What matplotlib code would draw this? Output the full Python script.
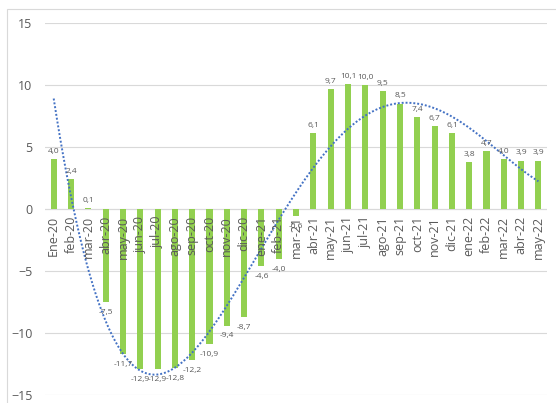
import numpy as np
import matplotlib.pyplot as plt
from matplotlib.patches import Rectangle

# monthly variation (%), Jan-2020 .. May-2022
months = ["Ene-20", "feb-20", "mar-20", "abr-20", "may-20", "jun-20", "jul-20", "ago-20",
          "sep-20", "oct-20", "nov-20", "dic-20", "ene-21", "feb-21", "mar-21", "abr-21",
          "may-21", "jun-21", "jul-21", "ago-21", "sep-21", "oct-21", "nov-21", "dic-21",
          "ene-22", "feb-22", "mar-22", "abr-22", "may-22"]
values = [4.0, 2.4, 0.1, -7.5, -11.7, -12.9, -12.9, -12.8, -12.2, -10.9, -9.4, -8.7,
          -4.6, -4.0, -0.6, 6.1, 9.7, 10.1, 10.0, 9.5, 8.5, 7.4, 6.7, 6.1,
          3.8, 4.7, 4.0, 3.9, 3.9]
yticks = [-15, -10, -5, 0, 5, 10, 15]

plt.rcParams['font.family'] = ['Open Sans', 'DejaVu Sans']
gray = '#595959'

fig = plt.figure(figsize=(5.56, 4.03), dpi=100)
ax = fig.add_axes([0.081, 0.0199, 0.903, 0.923])

x = np.arange(len(values))
ax.bar(x, values, width=0.35, color='#92D050', zorder=2)

# 4th order polynomial trend line (x = 1..n like a spreadsheet trendline)
xt = x + 1
coef = np.polyfit(xt, values, 4)
xs = np.linspace(1, len(values), 300)
ax.plot(xs - 1, np.polyval(coef, xs), linestyle=(0, (1, 1)), color='#4472C4', lw=1.4, zorder=3)

for xi, v in zip(x, values):
    txt = f"{v:.1f}".replace('.', ',')
    if v >= 0:
        ax.annotate(txt, (xi, v), xytext=(0, 3), textcoords='offset points',
                    ha='center', va='bottom', fontsize=6, color=gray, zorder=4)
    else:
        ax.annotate(txt, (xi, v), xytext=(0, -5), textcoords='offset points',
                    ha='center', va='top', fontsize=6, color=gray, zorder=4)

# category labels sit just under the zero line
for xi, m in zip(x, months):
    ax.annotate(m, (xi, 0), xytext=(0, -5), textcoords='offset points', rotation=90,
                ha='center', va='top', fontsize=9, color=gray, zorder=4)

ax.set_xlim(-0.5, len(values) - 0.5)
ax.set_ylim(-15, 15)
ax.set_yticks(yticks)
ax.set_xticks([])
ax.tick_params(axis='y', length=0, pad=9, labelsize=9, labelcolor=gray)
ax.grid(axis='y', color='#d9d9d9', lw=0.8, zorder=0)
ax.axhline(0, color='#d9d9d9', lw=0.8, zorder=1)
for s in ax.spines.values():
    s.set_visible(False)

# chart frame
fig.patches.append(Rectangle((7 / 556, -0.05), 1.1, (403 - 9) / 403 + 0.05,
                             transform=fig.transFigure, fill=False, ec='#d9d9d9', lw=0.8))

fig.savefig('out.png', dpi=100)
